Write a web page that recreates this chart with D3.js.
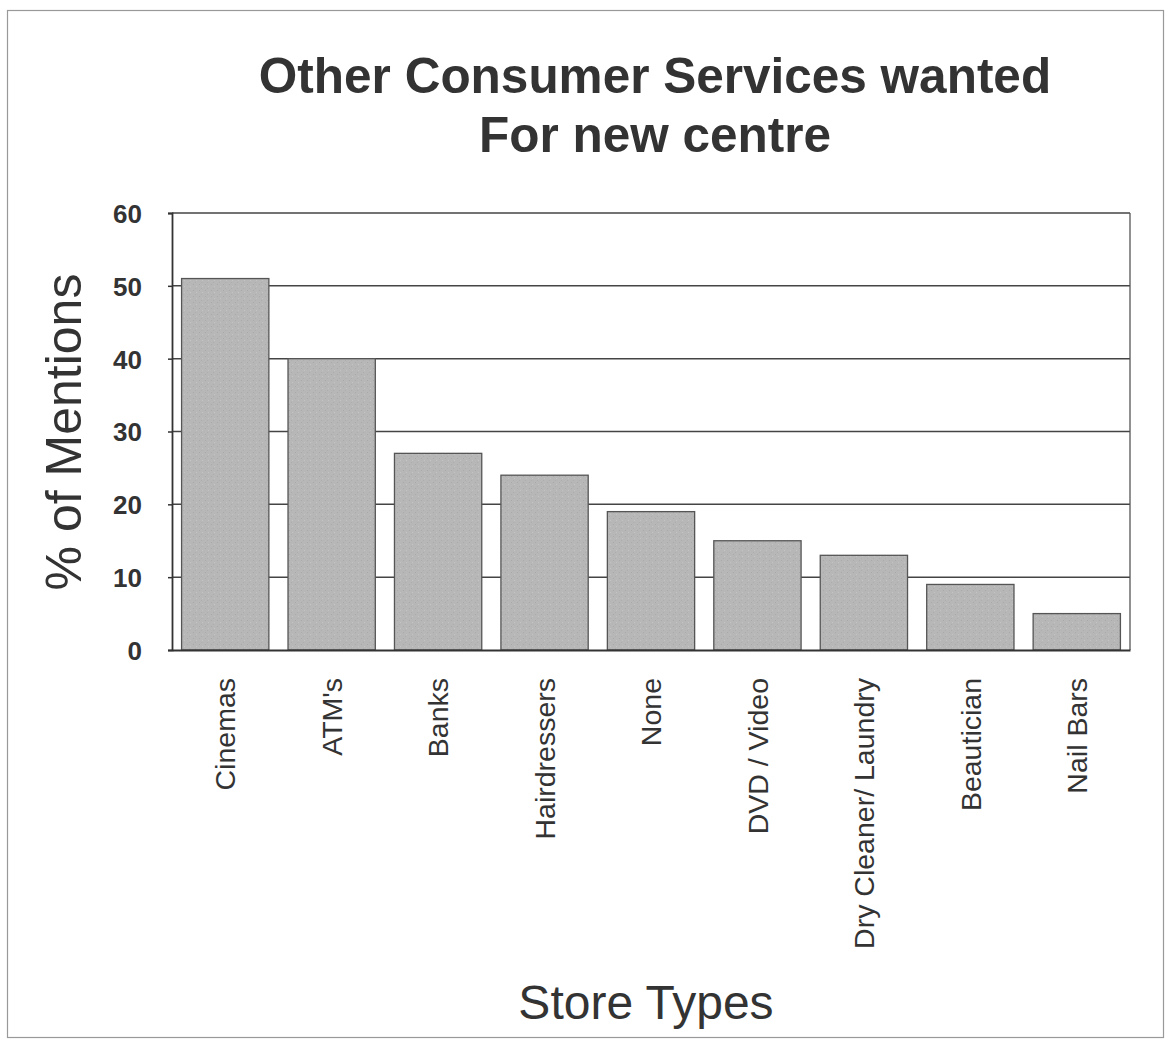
<!DOCTYPE html>
<html>
<head>
<meta charset="utf-8">
<script src="https://cdn.jsdelivr.net/npm/d3@7"></script>
<style>
  html, body { margin: 0; padding: 0; background: #fff; }
  svg { display: block; }
  text { font-family: Arial, "Liberation Sans", Helvetica, sans-serif; fill: #333; }
</style>
</head>
<body>
<svg id="chart" width="1170" height="1041"></svg>
<script>
const categories = ["Cinemas", "ATM's", "Banks", "Hairdressers", "None", "DVD / Video", "Dry Cleaner/ Laundry", "Beautician", "Nail Bars"];
const values = [51, 40, 27, 24, 19, 15, 13, 9, 5];
const yTicks = [0, 10, 20, 30, 40, 50, 60];
const titleLines = ["Other Consumer Services wanted", "For new centre"];
const xTitle = "Store Types";
const yTitle = "% of Mentions";

const svg = d3.select("#chart");
const plot = { left: 172, right: 1130, top: 213, bottom: 650 };

// outer frame
svg.append("rect")
  .attr("x", 7.5).attr("y", 10.5)
  .attr("width", 1156).attr("height", 1027)
  .attr("fill", "none").attr("stroke", "#999").attr("stroke-width", 1.2);

const x = d3.scaleBand().domain(categories)
  .range([plot.left, plot.right])
  .paddingInner(0.18).paddingOuter(0.09);
const y = d3.scaleLinear().domain([0, 60]).range([plot.bottom, plot.top]);

// texture pattern for bars
const defs = svg.append("defs");
const pat = defs.append("pattern").attr("id", "tex")
  .attr("patternUnits", "userSpaceOnUse").attr("width", 6).attr("height", 6);
pat.append("rect").attr("width", 6).attr("height", 6).attr("fill", "#b7b7b7");
pat.append("rect").attr("x", 1).attr("y", 2).attr("width", 1).attr("height", 1).attr("fill", "#a9a9a9");
pat.append("rect").attr("x", 4).attr("y", 4).attr("width", 1).attr("height", 1).attr("fill", "#c4c4c4");
pat.append("rect").attr("x", 3).attr("y", 0).attr("width", 1).attr("height", 1).attr("fill", "#adadad");

// gridlines
svg.append("g").selectAll("line").data(yTicks.filter(t => t > 0))
  .join("line")
  .attr("x1", plot.left).attr("x2", plot.right)
  .attr("y1", d => y(d)).attr("y2", d => y(d))
  .attr("stroke", "#444").attr("stroke-width", 1.5);

// right border of plot
svg.append("line")
  .attr("x1", plot.right).attr("x2", plot.right)
  .attr("y1", plot.top).attr("y2", plot.bottom)
  .attr("stroke", "#555").attr("stroke-width", 1.3);

// bars
svg.append("g").selectAll("rect").data(values)
  .join("rect")
  .attr("x", (d, i) => x(categories[i]))
  .attr("y", d => y(d))
  .attr("width", x.bandwidth())
  .attr("height", d => y(0) - y(d))
  .attr("fill", "url(#tex)")
  .attr("stroke", "#555").attr("stroke-width", 1.3);

// y axis
const yAxis = d3.axisLeft(y).tickValues(yTicks).tickSize(4).tickPadding(26);
const gy = svg.append("g").attr("transform", `translate(${plot.left},0)`).call(yAxis);
gy.select(".domain").attr("stroke", "#333").attr("stroke-width", 1.8);
gy.selectAll(".tick line").attr("stroke", "#333").attr("stroke-width", 1.5);
gy.selectAll(".tick text")
  .style("font-size", "26px").style("font-weight", "bold")
  .attr("fill", "#333").attr("dy", "0.36em");

// x axis
const xAxis = d3.axisBottom(x).tickSize(0).tickPadding(0);
const gx = svg.append("g").attr("transform", `translate(0,${plot.bottom})`).call(xAxis);
gx.select(".domain").attr("stroke", "#333").attr("stroke-width", 2.2);
gx.selectAll(".tick text")
  .style("font-size", "28.5px")
  .attr("fill", "#333")
  .attr("text-anchor", "end")
  .attr("transform", "rotate(-90)")
  .attr("x", -28).attr("y", 0).attr("dy", "0.36em");

// title
svg.append("g").selectAll("text").data(titleLines)
  .join("text")
  .attr("x", 655).attr("y", (d, i) => 93 + i * 59)
  .attr("text-anchor", "middle")
  .style("font-size", "49.5px").style("font-weight", "bold")
  .text(d => d);

// axis titles
svg.append("text")
  .attr("x", 646).attr("y", 1019)
  .attr("text-anchor", "middle")
  .style("font-size", "48px")
  .text(xTitle);

svg.append("text")
  .attr("transform", "translate(81,432) rotate(-90)")
  .attr("text-anchor", "middle")
  .style("font-size", "50px")
  .text(yTitle);
</script>
</body>
</html>
